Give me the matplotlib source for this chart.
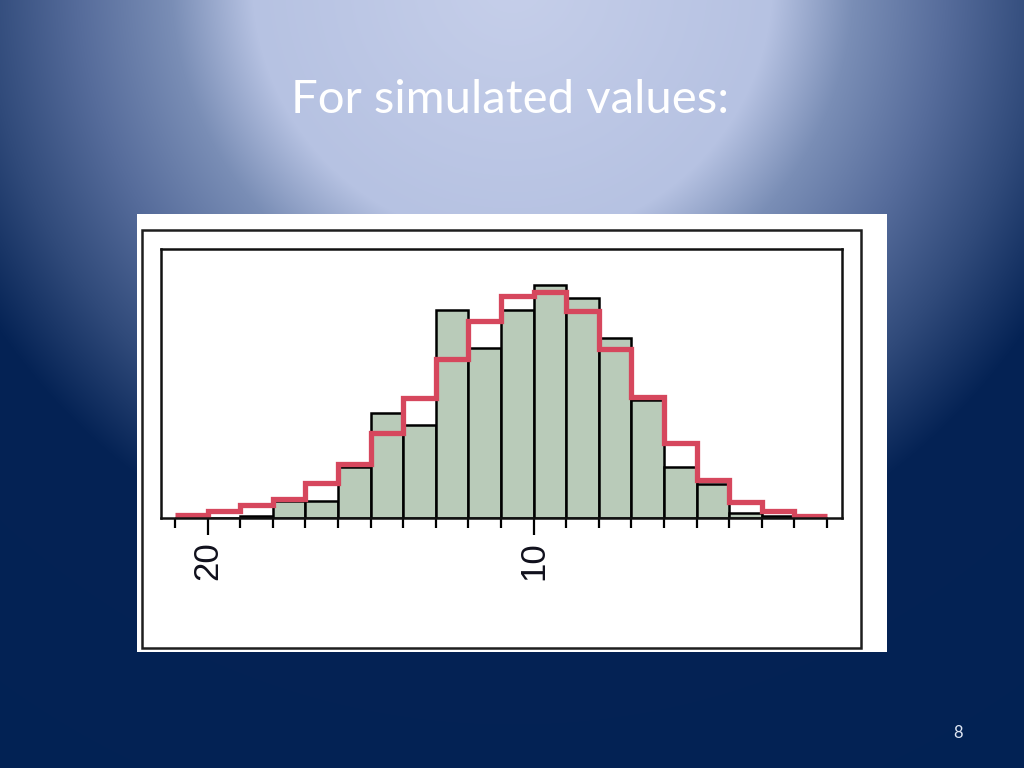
import numpy as np
import matplotlib
matplotlib.use("Agg")
import matplotlib.pyplot as plt
from matplotlib.patches import Rectangle

# histogram data, left to right on the (reversed) x axis
bin_edges = [21, 20, 19, 18, 17, 16, 15, 14, 13, 12, 11, 10, 9, 8, 7, 6, 5, 4, 3, 2, 1]
sim_counts = [0, 0, 1, 10, 10, 30, 61, 54, 121, 99, 121, 136, 128, 105, 69, 30, 20, 3, 1, 0]
expected = [1.7, 4.2, 7.5, 11, 20.3, 31.4, 49.4, 69.7, 92.9, 115, 129.5, 131.8,
            120.8, 98.7, 70.8, 43.6, 22.1, 9.3, 4.2, 1.3]
major_ticks = [20, 10]
major_labels = ["20", "10"]
title = "For simulated values:"
page_no = "8"

W, H = 1024, 768
fig = plt.figure(figsize=(W / 100, H / 100), dpi=100)

# slide background: radial light at top centre fading to navy
bg = fig.add_axes([0, 0, 1, 1], zorder=-10)
yy, xx = np.mgrid[0:H, 0:W]
t = np.sqrt(((xx - 512) / 620.0) ** 2 + ((yy + 20) / 620.0) ** 2)
stops = [0.0, 0.42, 0.55, 0.7, 0.85, 1.0, 2.0]
cols = np.array([[198, 207, 234], [182, 194, 226], [122, 142, 182],
                 [86, 108, 155], [48, 74, 122], [5, 35, 85], [0, 34, 84]]) / 255.0
img = np.stack([np.interp(t, stops, cols[:, k]) for k in range(3)], axis=-1)
bg.imshow(img, extent=[0, W, H, 0], aspect="auto", interpolation="bilinear")
bg.set_xlim(0, W)
bg.set_ylim(H, 0)
bg.axis("off")

# pasted picture: white card and its outer frame
bg.add_patch(Rectangle((137, 214), 750, 438, facecolor="white", edgecolor="none"))
bg.add_patch(Rectangle((142, 230), 719, 418, facecolor="none", edgecolor="#1e1e1e", lw=1.8))

fig.text(510 / W, 1 - 113 / H, title, ha="center", va="baseline",
         color="white", fontsize=34, family="Lato")
fig.text(958 / W, 1 - 733 / H, page_no, ha="center", va="center",
         color="#dfe6f3", fontsize=12, family="Lato")

# histogram panel
left, top, right, bottom = 161, 249, 842, 518
ax = fig.add_axes([left / W, 1 - bottom / H, (right - left) / W, (bottom - top) / H])
centers = [(a + b) / 2 for a, b in zip(bin_edges[:-1], bin_edges[1:])]
ax.bar(centers, sim_counts, width=1.0, color="#b9cbb9", edgecolor="black", linewidth=1.8)
ax.stairs(expected[::-1], bin_edges[::-1], baseline=None, color="#d6475d", linewidth=3.8)
ax.set_xlim(21.43, 0.54)
ax.set_ylim(0, 156.8)

ax.set_xticks(major_ticks)
ax.set_xticklabels(major_labels, rotation=90, family="Liberation Sans",
                   fontsize=25, color="#10101c")
ax.set_xticks(bin_edges, minor=True)
ax.tick_params(axis="x", which="major", length=12, width=1.6, pad=5, direction="out")
ax.tick_params(axis="x", which="minor", length=7, width=1.6, direction="out")
ax.set_yticks([])
for s in ax.spines.values():
    s.set_linewidth(1.8)
    s.set_color("#111111")

fig.savefig("out.png", dpi=100)
